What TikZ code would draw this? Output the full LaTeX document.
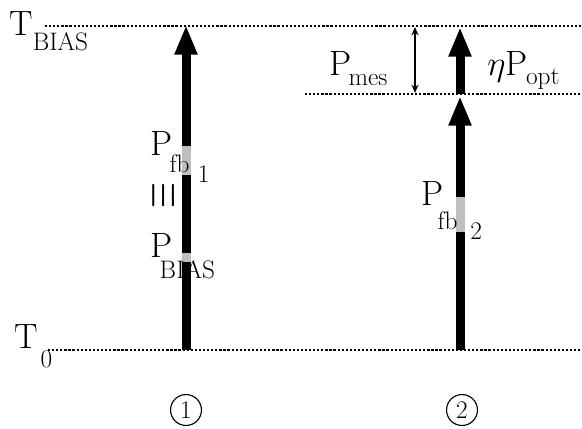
\documentclass[tikz,border=0pt]{standalone}
\usetikzlibrary{positioning}
\usetikzlibrary{arrows.meta}
\newcommand{\lowsub}[2][0.45em]{\raisebox{-#1}{\fontsize{18}{18}\selectfont #2}}
\tikzset{level/.style = {line width=1.8pt, dash pattern=on 1.6pt off 1.3pt}}
\tikzset{flow/.style = {line width=6.4pt, -{Triangle[length=21pt,width=15pt]}}}
\tikzset{meas/.style = {line width=1.1pt,
    {Stealth[length=6pt,width=5pt]}-{Stealth[length=6pt,width=5pt]}}}
\tikzset{gap/.style = {fill=white, fill opacity=0.75}}
\tikzset{lbl/.style = {inner sep=0pt, anchor=base west,
    font=\fontsize{25}{28}\selectfont}}
\tikzset{circnum/.style = {draw, circle, line width=0.8pt, inner sep=0pt,
    minimum size=22pt, font=\fontsize{18}{18}\selectfont}}

\begin{document}
\begin{tikzpicture}[x=0.025cm, y=-0.025cm]
    \useasboundingbox (0,0) rectangle (582,428);
    % levels
    \coordinate (tl) at (45,26);   \coordinate (tr) at (582,26);
    \coordinate (ml) at (305,94);  \coordinate (mr) at (582,94);
    \coordinate (bl) at (48,350);  \coordinate (br) at (582,350);
    \draw[level] (tl) -- (tr);
    \draw[level] (ml) -- (mr);
    \draw[level] (bl) -- (br);
    % case 1
    \coordinate (a1) at (186,350); \coordinate (b1) at (186,25);
    \draw[flow] (a1) -- (b1);
    % case 2
    \coordinate (a2) at (460,350); \coordinate (m2) at (460,96);
    \coordinate (n2) at (460,94);  \coordinate (b2) at (460,27);
    \draw[flow] (a2) -- (m2);
    \draw[flow] (n2) -- (b2);
    \coordinate (pm1) at (415,27); \coordinate (pm2) at (415,93);
    \draw[meas] (pm1) -- (pm2);
    % light gaps where the labels cross the arrows
    \fill[gap] (180,146) rectangle (192,175);
    \fill[gap] (180,253) rectangle (192,262);
    \fill[gap] (454,197) rectangle (466,232);
    % labels
    \node[lbl] (tbias) at (9,35) {T\lowsub{BIAS}};
    \node[lbl] (tzero) at (14,348) {T\lowsub[0.55em]{\kern2pt 0}};
    \node[lbl] (pfb1) at (150,155) {P\lowsub[0.5em]{\kern-2pt fb\hspace{6pt}\lowsub[0.4em]{1}}};
    \node[rotate=90, inner sep=0pt, font=\fontsize{24}{28}\selectfont] (eqv) at (164,196)
        {\scalebox{0.95}[1.45]{$\equiv$}};
    \node[lbl] (pbias) at (150,257) {P\lowsub[0.6em]{\kern-9pt BIAS}};
    \node[lbl] (pfb2) at (421,205) {P\lowsub[0.7em]{\kern-4pt fb\hspace{9pt}\lowsub[0.4em]{2}}};
    \node[lbl] (pmes) at (329,75) {P\lowsub[0.3em]{\kern-2pt mes}};
    \node[lbl] (popt) at (487,75) {$\eta$P\lowsub[0.28em]{\kern-1pt opt}};
    \node[circnum] (c1) at (186,410) {1};
    \node[circnum] (c2) at (462,410) {2};
\end{tikzpicture}
\end{document}
